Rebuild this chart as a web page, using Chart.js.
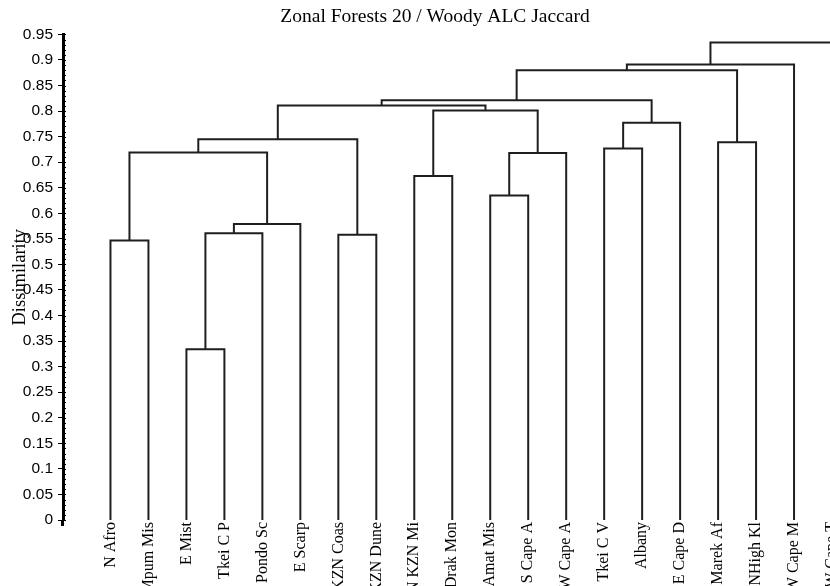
<!DOCTYPE html>
<html>
<head>
<meta charset="utf-8">
<script src="https://cdn.jsdelivr.net/npm/chart.js@4.4.1/dist/chart.umd.min.js"></script>
<style>
  html, body { margin: 0; padding: 0; background: #fff; overflow: hidden; }
  #wrap { width: 830px; height: 586px; overflow: hidden; }
</style>
</head>
<body>
<div id="wrap"><canvas id="dendro" width="870" height="586"></canvas></div>
<script>
// leaves of the dendrogram, left to right
const leafLabels = [
  "N Afro", "Mpum Mis", "E Mist", "Tkei C P", "Pondo Sc", "E Scarp",
  "KZN Coas", "KZN Dune", "N KZN Mi", "Drak Mon", "Amat Mis", "S Cape A",
  "W Cape A", "Tkei C V", "Albany", "E Cape D", "Marek Af", "NHigh Kl",
  "W Cape M", "W Cape T",
];

// merges : ids 0..19 = leaves, merge k gets id 20 + k
const mergeLeft = [2, 0, 6, 20, 23, 10, 8, 21, 25, 13, 16, 27, 29, 26, 31, 34, 35, 36, 37];
const mergeRight = [3, 1, 7, 4, 5, 11, 9, 24, 12, 14, 17, 22, 15, 28, 33, 32, 30, 18, 19];
const mergeHeight = [
  0.334, 0.547, 0.558, 0.561, 0.579, 0.635, 0.673, 0.719, 0.718, 0.727,
  0.739, 0.745, 0.777, 0.801, 0.811, 0.821, 0.88, 0.891, 0.934,
];

const yTickValues = [0, 0.05, 0.1, 0.15, 0.2, 0.25, 0.3, 0.35, 0.4, 0.45, 0.5, 0.55, 0.6, 0.65, 0.7, 0.75, 0.8, 0.85, 0.9, 0.95];
const yTickLabels = ["0", "0.05", "0.1", "0.15", "0.2", "0.25", "0.3", "0.35", "0.4", "0.45", "0.5", "0.55", "0.6", "0.65", "0.7", "0.75", "0.8", "0.85", "0.9", "0.95"];

// position + height of every node
const nodeX = leafLabels.map((_, i) => i);
const nodeH = leafLabels.map(() => 0);
mergeLeft.forEach((l, k) => {
  const r = mergeRight[k];
  nodeX.push((nodeX[l] + nodeX[r]) / 2);
  nodeH.push(mergeHeight[k]);
});

// one dataset per merge : up, across, down
const datasets = mergeLeft.map((l, k) => {
  const r = mergeRight[k];
  const h = mergeHeight[k];
  return {
    data: [
      { x: nodeX[l], y: nodeH[l] },
      { x: nodeX[l], y: h },
      { x: nodeX[r], y: h },
      { x: nodeX[r], y: nodeH[r] },
    ],
    showLine: true,
    borderColor: "#1e1e1e",
    borderWidth: 2,
    pointRadius: 0,
    tension: 0,
    fill: false,
  };
});

// minor ticks on the inner side of the y axis
const minorTicks = {
  id: "minorTicks",
  afterDraw(chart) {
    const s = chart.scales.y;
    const x0 = chart.chartArea.left;
    const c = chart.ctx;
    c.save();
    c.strokeStyle = "#000";
    c.lineWidth = 1;
    c.beginPath();
    for (let k = 0; k <= 95; k++) {
      const y = Math.round(s.getPixelForValue(k / 100)) + 0.5;
      c.moveTo(x0, y);
      c.lineTo(x0 + 3, y);
    }
    c.stroke();
    // axis runs a bit below 0
    c.lineWidth = 3;
    c.beginPath();
    c.moveTo(x0 - 0.5, s.getPixelForValue(0));
    c.lineTo(x0 - 0.5, s.getPixelForValue(0) + 6);
    c.stroke();
    c.restore();
  },
};

new Chart(document.getElementById("dendro"), {
  type: "scatter",
  data: { datasets },
  plugins: [minorTicks],
  options: {
    responsive: false,
    animation: false,
    layout: { padding: 0 },
    plugins: {
      legend: { display: false },
      tooltip: { enabled: false },
      title: {
        display: true,
        text: "Zonal Forests 20 / Woody ALC Jaccard",
        color: "#000",
        font: { family: "Liberation Serif", size: 19.5, weight: "normal" },
        padding: { top: 5, bottom: 6 },
      },
    },
    scales: {
      x: {
        type: "linear",
        min: -1.25,
        max: 20,
        afterBuildTicks: (s) => {
          s.ticks = leafLabels.map((_, i) => ({ value: i }));
        },
        afterFit: (s) => {
          s.height = 66;
        },
        grid: { display: false, drawTicks: false },
        border: { display: false },
        ticks: {
          autoSkip: false,
          minRotation: 90,
          maxRotation: 90,
          padding: 2,
          color: "#000",
          font: { family: "Liberation Serif", size: 16 },
          callback: (v) => leafLabels[v],
        },
      },
      y: {
        min: 0,
        max: 0.95,
        afterBuildTicks: (s) => {
          s.ticks = yTickValues.map((v) => ({ value: v }));
        },
        afterFit: (s) => {
          s.width = 63;
        },
        grid: {
          display: true,
          drawOnChartArea: false,
          drawTicks: true,
          tickLength: 5,
          color: "#000",
        },
        border: { display: true, color: "#000", width: 3 },
        ticks: {
          autoSkip: false,
          padding: 5,
          color: "#000",
          font: { family: "Liberation Sans", size: 15.5 },
          callback: (v, i) => yTickLabels[i],
        },
        title: {
          display: true,
          text: "Dissimilarity",
          color: "#000",
          font: { family: "Liberation Serif", size: 18.5 },
          padding: { top: 9, bottom: 0 },
        },
      },
    },
  },
});
</script>
</body>
</html>
